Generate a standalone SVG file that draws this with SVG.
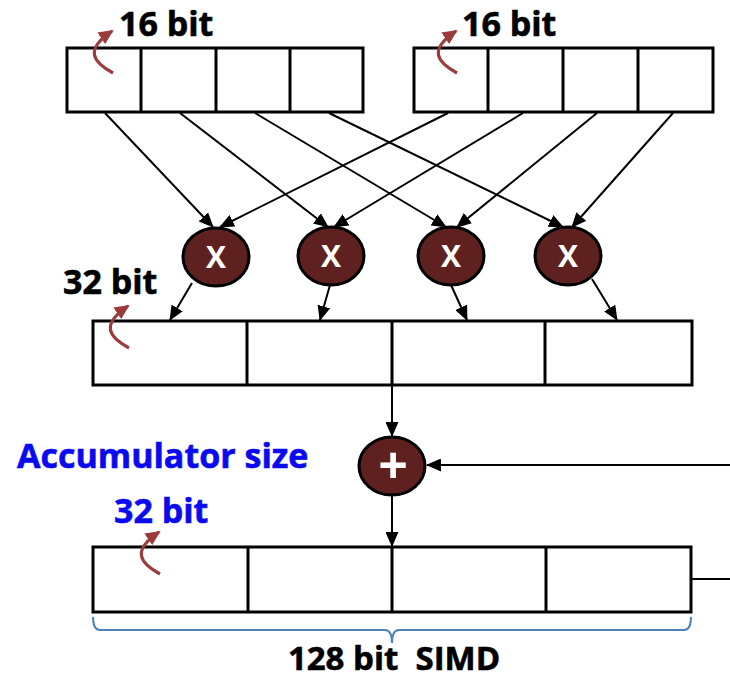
<svg xmlns="http://www.w3.org/2000/svg" width="730" height="680" viewBox="0 0 730 680">
<defs>
<style>
.reg{fill:#fff;stroke:#000;stroke-width:3}
.div{stroke:#000;stroke-width:3}
.con{stroke:#000;stroke-width:2;fill:none}
.op{fill:#5f2120;stroke:#000;stroke-width:3}
.opt{fill:#fff;font-family:"Open Sans","DejaVu Sans",sans-serif;font-weight:700;text-anchor:middle}
.lbl{font-family:"Open Sans","DejaVu Sans",sans-serif;font-weight:700;font-size:34px;fill:#000;stroke:#000;stroke-width:0.6}
.blue{fill:#0a0af0;stroke:#0a0af0}
.curl{stroke:#9b3b3b;stroke-width:3.2;fill:none}
</style>
<marker id="ah" markerUnits="userSpaceOnUse" markerWidth="15" markerHeight="13" refX="14" refY="6.5" orient="auto">
<path d="M0,0 L15,6.5 L0,13 z" fill="#000"/>
</marker>
<marker id="rh" markerUnits="userSpaceOnUse" markerWidth="15" markerHeight="14" refX="13" refY="7" orient="auto">
<path d="M0,0 L15,7 L0,14 z" fill="#9b3b3b"/>
</marker>
<path id="curl" d="M0,0 C-20,-11 -29,-23 -1,-42"/>
</defs>
<rect width="730" height="680" fill="#fff"/>

<g id="connectors">
<line class="con" x1="105" y1="113" x2="213" y2="227" marker-end="url(#ah)"/>
<line class="con" x1="180" y1="113" x2="328" y2="227" marker-end="url(#ah)"/>
<line class="con" x1="255" y1="113" x2="446" y2="227" marker-end="url(#ah)"/>
<line class="con" x1="329" y1="113" x2="563" y2="227" marker-end="url(#ah)"/>
<line class="con" x1="448" y1="113" x2="220" y2="227" marker-end="url(#ah)"/>
<line class="con" x1="523" y1="113" x2="334" y2="227" marker-end="url(#ah)"/>
<line class="con" x1="597" y1="113" x2="457" y2="227" marker-end="url(#ah)"/>
<line class="con" x1="673" y1="113" x2="572" y2="227" marker-end="url(#ah)"/>
<line class="con" x1="192" y1="283" x2="170" y2="320" marker-end="url(#ah)"/>
<line class="con" x1="330" y1="285" x2="320" y2="320" marker-end="url(#ah)"/>
<line class="con" x1="451" y1="285" x2="467" y2="320" marker-end="url(#ah)"/>
<line class="con" x1="592" y1="279" x2="617" y2="320" marker-end="url(#ah)"/>
<line class="con" x1="392" y1="386" x2="392" y2="436" marker-end="url(#ah)"/>
<line class="con" x1="392" y1="495" x2="392" y2="546" marker-end="url(#ah)"/>
<line class="con" x1="730" y1="465" x2="427" y2="465" marker-end="url(#ah)"/>
<line class="con" x1="691" y1="579" x2="730" y2="579"/>
</g>

<g id="reg-in-a">
<rect class="reg" x="67" y="48" width="296" height="64"/>
<line class="div" x1="141" y1="48" x2="141" y2="112"/>
<line class="div" x1="216" y1="48" x2="216" y2="112"/>
<line class="div" x1="290" y1="48" x2="290" y2="112"/>
<use href="#curl" class="curl" x="113" y="73" marker-end="url(#rh)"/>
<text class="lbl" x="119" y="36">16 bit</text>
</g>

<g id="reg-in-b">
<rect class="reg" x="414" y="48" width="299" height="64"/>
<line class="div" x1="488" y1="48" x2="488" y2="112"/>
<line class="div" x1="563" y1="48" x2="563" y2="112"/>
<line class="div" x1="638" y1="48" x2="638" y2="112"/>
<use href="#curl" class="curl" x="457" y="73" marker-end="url(#rh)"/>
<text class="lbl" x="462" y="36">16 bit</text>
</g>

<g id="mul1"><ellipse class="op" cx="216" cy="257" rx="33" ry="29"/><text class="opt" x="216" y="268" font-size="30">X</text></g>
<g id="mul2"><ellipse class="op" cx="331" cy="256" rx="33" ry="29"/><text class="opt" x="331" y="267" font-size="30">X</text></g>
<g id="mul3"><ellipse class="op" cx="451" cy="256" rx="33" ry="29"/><text class="opt" x="451" y="267" font-size="30">X</text></g>
<g id="mul4"><ellipse class="op" cx="568" cy="256" rx="33" ry="29"/><text class="opt" x="568" y="267" font-size="30">X</text></g>

<g id="reg-prod">
<rect class="reg" x="93" y="321" width="599" height="64"/>
<line class="div" x1="247" y1="321" x2="247" y2="385"/>
<line class="div" x1="392" y1="321" x2="392" y2="385"/>
<line class="div" x1="545" y1="321" x2="545" y2="385"/>
<use href="#curl" class="curl" x="129" y="348" marker-end="url(#rh)"/>
<text class="lbl" x="63" y="294">32 bit</text>
</g>

<g id="add">
<ellipse class="op" cx="392" cy="466" rx="33" ry="29"/>
<text class="opt" x="393" y="484" font-size="52">+</text>
</g>

<g id="accum-label">
<text class="lbl blue" x="17" y="468">Accumulator size</text>
<text class="lbl blue" x="114" y="523">32 bit</text>
</g>

<g id="reg-acc">
<rect class="reg" x="93" y="547" width="598" height="65"/>
<line class="div" x1="248" y1="547" x2="248" y2="612"/>
<line class="div" x1="392" y1="547" x2="392" y2="612"/>
<line class="div" x1="546" y1="547" x2="546" y2="612"/>
<use href="#curl" class="curl" x="160" y="574" marker-end="url(#rh)"/>
</g>

<g id="simd-brace">
<path d="M93,617 Q93,630 100,630 L385,630 Q392,630 392,643 Q392,630 399,630 L684,630 Q691,630 691,617" fill="none" stroke="#4f81bd" stroke-width="2"/>
<text class="lbl" x="394" y="670" text-anchor="middle" font-size="33" style="white-space:pre;font-size:33px">128 bit  SIMD</text>
</g>
</svg>
